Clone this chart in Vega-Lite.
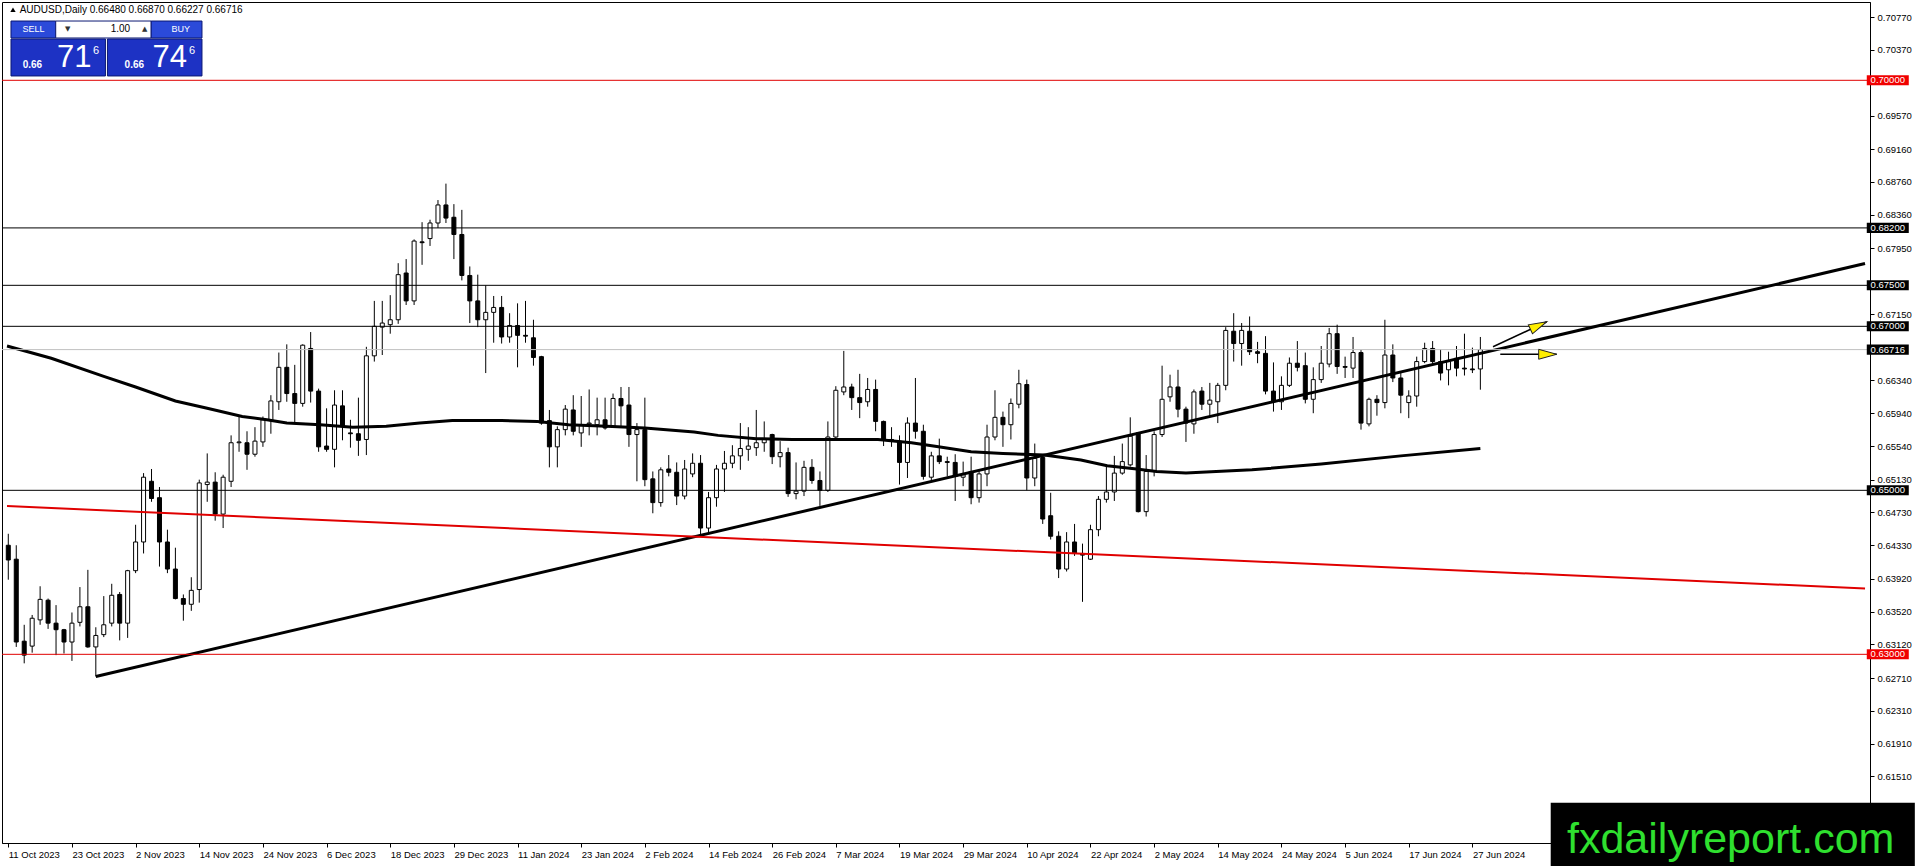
{
  "$schema": "https://vega.github.io/schema/vega-lite/v6.json",
  "description": "AUDUSD daily candles, Oct 2023 - Jun 2024, with moving average, trend lines and price levels (MT4 style).",
  "width": 1868,
  "height": 841,
  "autosize": {"type": "none"},
  "padding": {"left": 2, "top": 2, "right": 46, "bottom": 23},
  "background": "white",
  "config": {
    "view": {"stroke": "#000000", "strokeWidth": 1, "fill": "white"},
    "font": "Liberation Sans"
  },
  "resolve": {"scale": {"fill": "independent", "stroke": "independent", "color": "independent"}},
  "datasets": {
    "bars": [
      {"d": "2023-10-11", "n": 0, "o": 0.6433, "h": 0.6447, "l": 0.6391, "c": 0.6415},
      {"d": "2023-10-12", "n": 1, "o": 0.6416, "h": 0.6433, "l": 0.6309, "c": 0.6315},
      {"d": "2023-10-13", "n": 2, "o": 0.6316, "h": 0.6336, "l": 0.6289, "c": 0.6299},
      {"d": "2023-10-16", "n": 3, "o": 0.6310, "h": 0.6348, "l": 0.6302, "c": 0.6344},
      {"d": "2023-10-17", "n": 4, "o": 0.6342, "h": 0.6383, "l": 0.6336, "c": 0.6367},
      {"d": "2023-10-18", "n": 5, "o": 0.6366, "h": 0.6368, "l": 0.6331, "c": 0.6338},
      {"d": "2023-10-19", "n": 6, "o": 0.6338, "h": 0.6360, "l": 0.6299, "c": 0.6330},
      {"d": "2023-10-20", "n": 7, "o": 0.6330, "h": 0.6331, "l": 0.6301, "c": 0.6315},
      {"d": "2023-10-23", "n": 8, "o": 0.6315, "h": 0.6351, "l": 0.6292, "c": 0.6338},
      {"d": "2023-10-24", "n": 9, "o": 0.6339, "h": 0.6382, "l": 0.6334, "c": 0.6358},
      {"d": "2023-10-25", "n": 10, "o": 0.6358, "h": 0.6403, "l": 0.6308, "c": 0.6309},
      {"d": "2023-10-26", "n": 11, "o": 0.6309, "h": 0.6333, "l": 0.6273, "c": 0.6323},
      {"d": "2023-10-27", "n": 12, "o": 0.6324, "h": 0.6371, "l": 0.6321, "c": 0.6336},
      {"d": "2023-10-30", "n": 13, "o": 0.6338, "h": 0.6386, "l": 0.6334, "c": 0.6372},
      {"d": "2023-10-31", "n": 14, "o": 0.6373, "h": 0.6376, "l": 0.6317, "c": 0.6338},
      {"d": "2023-11-01", "n": 15, "o": 0.6338, "h": 0.6403, "l": 0.6320, "c": 0.6402},
      {"d": "2023-11-02", "n": 16, "o": 0.6402, "h": 0.6458, "l": 0.6399, "c": 0.6437},
      {"d": "2023-11-03", "n": 17, "o": 0.6437, "h": 0.6521, "l": 0.6423, "c": 0.6516},
      {"d": "2023-11-06", "n": 18, "o": 0.6511, "h": 0.6526, "l": 0.6486, "c": 0.6490},
      {"d": "2023-11-07", "n": 19, "o": 0.6491, "h": 0.6504, "l": 0.6407, "c": 0.6437},
      {"d": "2023-11-08", "n": 20, "o": 0.6437, "h": 0.6452, "l": 0.6399, "c": 0.6404},
      {"d": "2023-11-09", "n": 21, "o": 0.6404, "h": 0.6430, "l": 0.6367, "c": 0.6368},
      {"d": "2023-11-10", "n": 22, "o": 0.6368, "h": 0.6373, "l": 0.6341, "c": 0.6361},
      {"d": "2023-11-13", "n": 23, "o": 0.6361, "h": 0.6394, "l": 0.6353, "c": 0.6378},
      {"d": "2023-11-14", "n": 24, "o": 0.6379, "h": 0.6513, "l": 0.6363, "c": 0.6509},
      {"d": "2023-11-15", "n": 25, "o": 0.6507, "h": 0.6545, "l": 0.6486, "c": 0.6510},
      {"d": "2023-11-16", "n": 26, "o": 0.6510, "h": 0.6522, "l": 0.6463, "c": 0.6471},
      {"d": "2023-11-17", "n": 27, "o": 0.6471, "h": 0.6519, "l": 0.6454, "c": 0.6516},
      {"d": "2023-11-20", "n": 28, "o": 0.6511, "h": 0.6567, "l": 0.6504, "c": 0.6558},
      {"d": "2023-11-21", "n": 29, "o": 0.6558, "h": 0.6590, "l": 0.6547, "c": 0.6559},
      {"d": "2023-11-22", "n": 30, "o": 0.6558, "h": 0.6572, "l": 0.6525, "c": 0.6544},
      {"d": "2023-11-23", "n": 31, "o": 0.6544, "h": 0.6577, "l": 0.6541, "c": 0.6560},
      {"d": "2023-11-24", "n": 32, "o": 0.6559, "h": 0.6590, "l": 0.6553, "c": 0.6586},
      {"d": "2023-11-27", "n": 33, "o": 0.6585, "h": 0.6616, "l": 0.6569, "c": 0.6609},
      {"d": "2023-11-28", "n": 34, "o": 0.6608, "h": 0.6668, "l": 0.6598, "c": 0.6650},
      {"d": "2023-11-29", "n": 35, "o": 0.6650, "h": 0.6678, "l": 0.6608, "c": 0.6618},
      {"d": "2023-11-30", "n": 36, "o": 0.6618, "h": 0.6653, "l": 0.6582, "c": 0.6606},
      {"d": "2023-12-01", "n": 37, "o": 0.6606, "h": 0.6678, "l": 0.6602, "c": 0.6677},
      {"d": "2023-12-04", "n": 38, "o": 0.6673, "h": 0.6693, "l": 0.6607, "c": 0.6621},
      {"d": "2023-12-05", "n": 39, "o": 0.6621, "h": 0.6624, "l": 0.6547, "c": 0.6553},
      {"d": "2023-12-06", "n": 40, "o": 0.6554, "h": 0.6600, "l": 0.6547, "c": 0.6550},
      {"d": "2023-12-07", "n": 41, "o": 0.6550, "h": 0.6622, "l": 0.6528, "c": 0.6604},
      {"d": "2023-12-08", "n": 42, "o": 0.6603, "h": 0.6622, "l": 0.6561, "c": 0.6578},
      {"d": "2023-12-11", "n": 43, "o": 0.6570, "h": 0.6586, "l": 0.6552, "c": 0.6569},
      {"d": "2023-12-12", "n": 44, "o": 0.6569, "h": 0.6613, "l": 0.6542, "c": 0.6561},
      {"d": "2023-12-13", "n": 45, "o": 0.6562, "h": 0.6675, "l": 0.6543, "c": 0.6664},
      {"d": "2023-12-14", "n": 46, "o": 0.6664, "h": 0.6731, "l": 0.6657, "c": 0.6700},
      {"d": "2023-12-15", "n": 47, "o": 0.6699, "h": 0.6731, "l": 0.6665, "c": 0.6704},
      {"d": "2023-12-18", "n": 48, "o": 0.6702, "h": 0.6738, "l": 0.6691, "c": 0.6708},
      {"d": "2023-12-19", "n": 49, "o": 0.6708, "h": 0.6777, "l": 0.6703, "c": 0.6763},
      {"d": "2023-12-20", "n": 50, "o": 0.6765, "h": 0.6782, "l": 0.6726, "c": 0.6731},
      {"d": "2023-12-21", "n": 51, "o": 0.6731, "h": 0.6806, "l": 0.6726, "c": 0.6804},
      {"d": "2023-12-22", "n": 52, "o": 0.6803, "h": 0.6827, "l": 0.6775, "c": 0.6802},
      {"d": "2023-12-26", "n": 53, "o": 0.6807, "h": 0.6830, "l": 0.6798, "c": 0.6826},
      {"d": "2023-12-27", "n": 54, "o": 0.6826, "h": 0.6854, "l": 0.6820, "c": 0.6848},
      {"d": "2023-12-28", "n": 55, "o": 0.6848, "h": 0.6874, "l": 0.6826, "c": 0.6832},
      {"d": "2023-12-29", "n": 56, "o": 0.6833, "h": 0.6849, "l": 0.6782, "c": 0.6812},
      {"d": "2024-01-02", "n": 57, "o": 0.6812, "h": 0.6842, "l": 0.6756, "c": 0.6762},
      {"d": "2024-01-03", "n": 58, "o": 0.6762, "h": 0.6773, "l": 0.6704, "c": 0.6731},
      {"d": "2024-01-04", "n": 59, "o": 0.6731, "h": 0.6763, "l": 0.6699, "c": 0.6708},
      {"d": "2024-01-05", "n": 60, "o": 0.6708, "h": 0.6750, "l": 0.6643, "c": 0.6717},
      {"d": "2024-01-08", "n": 61, "o": 0.6717, "h": 0.6737, "l": 0.6680, "c": 0.6723},
      {"d": "2024-01-09", "n": 62, "o": 0.6723, "h": 0.6737, "l": 0.6679, "c": 0.6687},
      {"d": "2024-01-10", "n": 63, "o": 0.6687, "h": 0.6716, "l": 0.6680, "c": 0.6701},
      {"d": "2024-01-11", "n": 64, "o": 0.6701, "h": 0.6728, "l": 0.6650, "c": 0.6689},
      {"d": "2024-01-12", "n": 65, "o": 0.6689, "h": 0.6731, "l": 0.6680, "c": 0.6688},
      {"d": "2024-01-15", "n": 66, "o": 0.6686, "h": 0.6708, "l": 0.6652, "c": 0.6662},
      {"d": "2024-01-16", "n": 67, "o": 0.6663, "h": 0.6664, "l": 0.6580, "c": 0.6582},
      {"d": "2024-01-17", "n": 68, "o": 0.6585, "h": 0.6598, "l": 0.6528, "c": 0.6553},
      {"d": "2024-01-18", "n": 69, "o": 0.6553, "h": 0.6578, "l": 0.6528, "c": 0.6574},
      {"d": "2024-01-19", "n": 70, "o": 0.6574, "h": 0.6604, "l": 0.6567, "c": 0.6599},
      {"d": "2024-01-22", "n": 71, "o": 0.6598, "h": 0.6616, "l": 0.6567, "c": 0.6572},
      {"d": "2024-01-23", "n": 72, "o": 0.6570, "h": 0.6615, "l": 0.6553, "c": 0.6580},
      {"d": "2024-01-24", "n": 73, "o": 0.6581, "h": 0.6623, "l": 0.6567, "c": 0.6582},
      {"d": "2024-01-25", "n": 74, "o": 0.6580, "h": 0.6613, "l": 0.6567, "c": 0.6586},
      {"d": "2024-01-26", "n": 75, "o": 0.6586, "h": 0.6613, "l": 0.6574, "c": 0.6576},
      {"d": "2024-01-29", "n": 76, "o": 0.6578, "h": 0.6618, "l": 0.6576, "c": 0.6612},
      {"d": "2024-01-30", "n": 77, "o": 0.6612, "h": 0.6626, "l": 0.6578, "c": 0.6603},
      {"d": "2024-01-31", "n": 78, "o": 0.6604, "h": 0.6626, "l": 0.6553, "c": 0.6568},
      {"d": "2024-02-01", "n": 79, "o": 0.6568, "h": 0.6582, "l": 0.6511, "c": 0.6574},
      {"d": "2024-02-02", "n": 80, "o": 0.6574, "h": 0.6613, "l": 0.6505, "c": 0.6513},
      {"d": "2024-02-05", "n": 81, "o": 0.6514, "h": 0.6523, "l": 0.6472, "c": 0.6485},
      {"d": "2024-02-06", "n": 82, "o": 0.6485, "h": 0.6528, "l": 0.6480, "c": 0.6525},
      {"d": "2024-02-07", "n": 83, "o": 0.6526, "h": 0.6543, "l": 0.6517, "c": 0.6522},
      {"d": "2024-02-08", "n": 84, "o": 0.6522, "h": 0.6534, "l": 0.6482, "c": 0.6493},
      {"d": "2024-02-09", "n": 85, "o": 0.6493, "h": 0.6537, "l": 0.6489, "c": 0.6526},
      {"d": "2024-02-12", "n": 86, "o": 0.6520, "h": 0.6545, "l": 0.6516, "c": 0.6533},
      {"d": "2024-02-13", "n": 87, "o": 0.6533, "h": 0.6543, "l": 0.6446, "c": 0.6454},
      {"d": "2024-02-14", "n": 88, "o": 0.6454, "h": 0.6498, "l": 0.6448, "c": 0.6491},
      {"d": "2024-02-15", "n": 89, "o": 0.6491, "h": 0.6531, "l": 0.6480, "c": 0.6526},
      {"d": "2024-02-16", "n": 90, "o": 0.6526, "h": 0.6548, "l": 0.6498, "c": 0.6533},
      {"d": "2024-02-19", "n": 91, "o": 0.6533, "h": 0.6555, "l": 0.6527, "c": 0.6542},
      {"d": "2024-02-20", "n": 92, "o": 0.6542, "h": 0.6582, "l": 0.6525, "c": 0.6551},
      {"d": "2024-02-21", "n": 93, "o": 0.6550, "h": 0.6577, "l": 0.6536, "c": 0.6554},
      {"d": "2024-02-22", "n": 94, "o": 0.6552, "h": 0.6598, "l": 0.6542, "c": 0.6558},
      {"d": "2024-02-23", "n": 95, "o": 0.6558, "h": 0.6584, "l": 0.6547, "c": 0.6563},
      {"d": "2024-02-26", "n": 96, "o": 0.6568, "h": 0.6569, "l": 0.6532, "c": 0.6541},
      {"d": "2024-02-27", "n": 97, "o": 0.6541, "h": 0.6560, "l": 0.6528, "c": 0.6546},
      {"d": "2024-02-28", "n": 98, "o": 0.6546, "h": 0.6552, "l": 0.6492, "c": 0.6496},
      {"d": "2024-02-29", "n": 99, "o": 0.6496, "h": 0.6534, "l": 0.6489, "c": 0.6499},
      {"d": "2024-03-01", "n": 100, "o": 0.6499, "h": 0.6536, "l": 0.6493, "c": 0.6528},
      {"d": "2024-03-04", "n": 101, "o": 0.6528, "h": 0.6538, "l": 0.6508, "c": 0.6512},
      {"d": "2024-03-05", "n": 102, "o": 0.6512, "h": 0.6523, "l": 0.6481, "c": 0.6500},
      {"d": "2024-03-06", "n": 103, "o": 0.6500, "h": 0.6584, "l": 0.6498, "c": 0.6565},
      {"d": "2024-03-07", "n": 104, "o": 0.6565, "h": 0.6627, "l": 0.6563, "c": 0.6622},
      {"d": "2024-03-08", "n": 105, "o": 0.6620, "h": 0.6670, "l": 0.6616, "c": 0.6626},
      {"d": "2024-03-11", "n": 106, "o": 0.6626, "h": 0.6630, "l": 0.6598, "c": 0.6613},
      {"d": "2024-03-12", "n": 107, "o": 0.6613, "h": 0.6642, "l": 0.6588, "c": 0.6607},
      {"d": "2024-03-13", "n": 108, "o": 0.6608, "h": 0.6637, "l": 0.6602, "c": 0.6623},
      {"d": "2024-03-14", "n": 109, "o": 0.6623, "h": 0.6635, "l": 0.6572, "c": 0.6584},
      {"d": "2024-03-15", "n": 110, "o": 0.6584, "h": 0.6585, "l": 0.6554, "c": 0.6561},
      {"d": "2024-03-18", "n": 111, "o": 0.6562, "h": 0.6577, "l": 0.6553, "c": 0.6561},
      {"d": "2024-03-19", "n": 112, "o": 0.6560, "h": 0.6567, "l": 0.6507, "c": 0.6534},
      {"d": "2024-03-20", "n": 113, "o": 0.6534, "h": 0.6589, "l": 0.6515, "c": 0.6582},
      {"d": "2024-03-21", "n": 114, "o": 0.6582, "h": 0.6637, "l": 0.6563, "c": 0.6572},
      {"d": "2024-03-22", "n": 115, "o": 0.6572, "h": 0.6580, "l": 0.6513, "c": 0.6517},
      {"d": "2024-03-25", "n": 116, "o": 0.6516, "h": 0.6547, "l": 0.6512, "c": 0.6542},
      {"d": "2024-03-26", "n": 117, "o": 0.6542, "h": 0.6563, "l": 0.6532, "c": 0.6535},
      {"d": "2024-03-27", "n": 118, "o": 0.6535, "h": 0.6541, "l": 0.6517, "c": 0.6534},
      {"d": "2024-03-28", "n": 119, "o": 0.6534, "h": 0.6544, "l": 0.6487, "c": 0.6517},
      {"d": "2024-03-29", "n": 120, "o": 0.6516, "h": 0.6535, "l": 0.6505, "c": 0.6519},
      {"d": "2024-04-01", "n": 121, "o": 0.6523, "h": 0.6541, "l": 0.6483, "c": 0.6491},
      {"d": "2024-04-02", "n": 122, "o": 0.6491, "h": 0.6524, "l": 0.6485, "c": 0.6520},
      {"d": "2024-04-03", "n": 123, "o": 0.6520, "h": 0.6580, "l": 0.6505, "c": 0.6565},
      {"d": "2024-04-04", "n": 124, "o": 0.6565, "h": 0.6622, "l": 0.6561, "c": 0.6589},
      {"d": "2024-04-05", "n": 125, "o": 0.6589, "h": 0.6596, "l": 0.6553, "c": 0.6580},
      {"d": "2024-04-08", "n": 126, "o": 0.6580, "h": 0.6612, "l": 0.6562, "c": 0.6606},
      {"d": "2024-04-09", "n": 127, "o": 0.6605, "h": 0.6647, "l": 0.6600, "c": 0.6630},
      {"d": "2024-04-10", "n": 128, "o": 0.6629, "h": 0.6635, "l": 0.6500, "c": 0.6515},
      {"d": "2024-04-11", "n": 129, "o": 0.6515, "h": 0.6557, "l": 0.6505, "c": 0.6539},
      {"d": "2024-04-12", "n": 130, "o": 0.6540, "h": 0.6544, "l": 0.6459, "c": 0.6465},
      {"d": "2024-04-15", "n": 131, "o": 0.6469, "h": 0.6497, "l": 0.6440, "c": 0.6444},
      {"d": "2024-04-16", "n": 132, "o": 0.6444, "h": 0.6450, "l": 0.6393, "c": 0.6404},
      {"d": "2024-04-17", "n": 133, "o": 0.6404, "h": 0.6449, "l": 0.6401, "c": 0.6437},
      {"d": "2024-04-18", "n": 134, "o": 0.6437, "h": 0.6459, "l": 0.6420, "c": 0.6423},
      {"d": "2024-04-19", "n": 135, "o": 0.6423, "h": 0.6435, "l": 0.6364, "c": 0.6421},
      {"d": "2024-04-22", "n": 136, "o": 0.6416, "h": 0.6458, "l": 0.6415, "c": 0.6452},
      {"d": "2024-04-23", "n": 137, "o": 0.6452, "h": 0.6493, "l": 0.6444, "c": 0.6489},
      {"d": "2024-04-24", "n": 138, "o": 0.6489, "h": 0.6529, "l": 0.6485, "c": 0.6498},
      {"d": "2024-04-25", "n": 139, "o": 0.6498, "h": 0.6542, "l": 0.6487, "c": 0.6521},
      {"d": "2024-04-26", "n": 140, "o": 0.6521, "h": 0.6557, "l": 0.6519, "c": 0.6535},
      {"d": "2024-04-29", "n": 141, "o": 0.6531, "h": 0.6589, "l": 0.6529, "c": 0.6566},
      {"d": "2024-04-30", "n": 142, "o": 0.6570, "h": 0.6571, "l": 0.6473, "c": 0.6474},
      {"d": "2024-05-01", "n": 143, "o": 0.6474, "h": 0.6543, "l": 0.6468, "c": 0.6523},
      {"d": "2024-05-02", "n": 144, "o": 0.6523, "h": 0.6572, "l": 0.6517, "c": 0.6568},
      {"d": "2024-05-03", "n": 145, "o": 0.6568, "h": 0.6652, "l": 0.6565, "c": 0.6611},
      {"d": "2024-05-06", "n": 146, "o": 0.6614, "h": 0.6641, "l": 0.6608, "c": 0.6626},
      {"d": "2024-05-07", "n": 147, "o": 0.6626, "h": 0.6647, "l": 0.6589, "c": 0.6599},
      {"d": "2024-05-08", "n": 148, "o": 0.6599, "h": 0.6602, "l": 0.6559, "c": 0.6582},
      {"d": "2024-05-09", "n": 149, "o": 0.6581, "h": 0.6623, "l": 0.6569, "c": 0.6620},
      {"d": "2024-05-10", "n": 150, "o": 0.6621, "h": 0.6626, "l": 0.6598, "c": 0.6605},
      {"d": "2024-05-13", "n": 151, "o": 0.6605, "h": 0.6631, "l": 0.6591, "c": 0.6610},
      {"d": "2024-05-14", "n": 152, "o": 0.6608, "h": 0.6631, "l": 0.6582, "c": 0.6628},
      {"d": "2024-05-15", "n": 153, "o": 0.6628, "h": 0.6699, "l": 0.6622, "c": 0.6695},
      {"d": "2024-05-16", "n": 154, "o": 0.6694, "h": 0.6716, "l": 0.6657, "c": 0.6679},
      {"d": "2024-05-17", "n": 155, "o": 0.6679, "h": 0.6704, "l": 0.6652, "c": 0.6695},
      {"d": "2024-05-20", "n": 156, "o": 0.6694, "h": 0.6712, "l": 0.6665, "c": 0.6669},
      {"d": "2024-05-21", "n": 157, "o": 0.6669, "h": 0.6681, "l": 0.6655, "c": 0.6667},
      {"d": "2024-05-22", "n": 158, "o": 0.6667, "h": 0.6688, "l": 0.6617, "c": 0.6621},
      {"d": "2024-05-23", "n": 159, "o": 0.6621, "h": 0.6656, "l": 0.6596, "c": 0.6608},
      {"d": "2024-05-24", "n": 160, "o": 0.6608, "h": 0.6639, "l": 0.6598, "c": 0.6628},
      {"d": "2024-05-27", "n": 161, "o": 0.6628, "h": 0.6662, "l": 0.6626, "c": 0.6655},
      {"d": "2024-05-28", "n": 162, "o": 0.6655, "h": 0.6682, "l": 0.6645, "c": 0.6650},
      {"d": "2024-05-29", "n": 163, "o": 0.6652, "h": 0.6668, "l": 0.6606, "c": 0.6611},
      {"d": "2024-05-30", "n": 164, "o": 0.6611, "h": 0.6650, "l": 0.6594, "c": 0.6635},
      {"d": "2024-05-31", "n": 165, "o": 0.6635, "h": 0.6676, "l": 0.6631, "c": 0.6655},
      {"d": "2024-06-03", "n": 166, "o": 0.6654, "h": 0.6698, "l": 0.6650, "c": 0.6691},
      {"d": "2024-06-04", "n": 167, "o": 0.6691, "h": 0.6702, "l": 0.6642, "c": 0.6651},
      {"d": "2024-06-05", "n": 168, "o": 0.6651, "h": 0.6663, "l": 0.6637, "c": 0.6650},
      {"d": "2024-06-06", "n": 169, "o": 0.6649, "h": 0.6687, "l": 0.6637, "c": 0.6668},
      {"d": "2024-06-07", "n": 170, "o": 0.6668, "h": 0.6671, "l": 0.6574, "c": 0.6582},
      {"d": "2024-06-10", "n": 171, "o": 0.6581, "h": 0.6613, "l": 0.6578, "c": 0.6611},
      {"d": "2024-06-11", "n": 172, "o": 0.6611, "h": 0.6616, "l": 0.6591, "c": 0.6607},
      {"d": "2024-06-12", "n": 173, "o": 0.6607, "h": 0.6708, "l": 0.6600, "c": 0.6665},
      {"d": "2024-06-13", "n": 174, "o": 0.6665, "h": 0.6678, "l": 0.6632, "c": 0.6637},
      {"d": "2024-06-14", "n": 175, "o": 0.6637, "h": 0.6643, "l": 0.6594, "c": 0.6616},
      {"d": "2024-06-17", "n": 176, "o": 0.6607, "h": 0.6622, "l": 0.6588, "c": 0.6615},
      {"d": "2024-06-18", "n": 177, "o": 0.6615, "h": 0.6663, "l": 0.6602, "c": 0.6657},
      {"d": "2024-06-19", "n": 178, "o": 0.6657, "h": 0.6680, "l": 0.6655, "c": 0.6673},
      {"d": "2024-06-20", "n": 179, "o": 0.6673, "h": 0.6682, "l": 0.6654, "c": 0.6657},
      {"d": "2024-06-21", "n": 180, "o": 0.6657, "h": 0.6672, "l": 0.6634, "c": 0.6643},
      {"d": "2024-06-24", "n": 181, "o": 0.6647, "h": 0.6669, "l": 0.6628, "c": 0.6657},
      {"d": "2024-06-25", "n": 182, "o": 0.6661, "h": 0.6676, "l": 0.6639, "c": 0.6649},
      {"d": "2024-06-26", "n": 183, "o": 0.6649, "h": 0.6691, "l": 0.6640, "c": 0.6648},
      {"d": "2024-06-27", "n": 184, "o": 0.6648, "h": 0.6674, "l": 0.6643, "c": 0.6647},
      {"d": "2024-06-28", "n": 185, "o": 0.6648, "h": 0.6687, "l": 0.66227, "c": 0.66716}
    ],
    "ma": [
      {"n": -0.16, "p": 0.6676}, {"n": 5.4, "p": 0.6661}, {"n": 12, "p": 0.6639},
      {"n": 16, "p": 0.6626}, {"n": 21, "p": 0.6609}, {"n": 25, "p": 0.6600},
      {"n": 29.4, "p": 0.6590}, {"n": 32.5, "p": 0.6586}, {"n": 35, "p": 0.6582},
      {"n": 39.2, "p": 0.6580}, {"n": 43.3, "p": 0.6577}, {"n": 47.5, "p": 0.6578},
      {"n": 51.7, "p": 0.6582}, {"n": 55.8, "p": 0.6585}, {"n": 62, "p": 0.6585},
      {"n": 66.5, "p": 0.6584}, {"n": 70.4, "p": 0.6580}, {"n": 75.2, "p": 0.6578},
      {"n": 80, "p": 0.6576}, {"n": 86.2, "p": 0.6571}, {"n": 89.2, "p": 0.6567},
      {"n": 94, "p": 0.6563}, {"n": 98.5, "p": 0.6562}, {"n": 109.3, "p": 0.6562},
      {"n": 113.5, "p": 0.6558}, {"n": 116.9, "p": 0.6553}, {"n": 121, "p": 0.6547},
      {"n": 125, "p": 0.6545}, {"n": 130.2, "p": 0.6543}, {"n": 134.8, "p": 0.6537},
      {"n": 138.1, "p": 0.6530}, {"n": 141.8, "p": 0.6526}, {"n": 144.3, "p": 0.6523},
      {"n": 148, "p": 0.6521}, {"n": 151.8, "p": 0.6523}, {"n": 156.3, "p": 0.6525},
      {"n": 165, "p": 0.6532}, {"n": 175, "p": 0.6542}, {"n": 185, "p": 0.6551}
    ],
    "rays": [
      {"line": "trend", "n": 11, "p": 0.6273},
      {"line": "trend", "n": 233.34, "p": 0.67765},
      {"line": "red", "n": -0.16, "p": 0.64808},
      {"line": "red", "n": 233.34, "p": 0.63803}
    ],
    "levels": [
      {"p": 0.70000, "kind": "red"},
      {"p": 0.68200, "kind": "black"},
      {"p": 0.67500, "kind": "black"},
      {"p": 0.67000, "kind": "black"},
      {"p": 0.66716, "kind": "price"},
      {"p": 0.65000, "kind": "black"},
      {"p": 0.63000, "kind": "red"}
    ],
    "arrows": [
      {"arrow": "up", "n": 186.59, "p": 0.66751, "n2": 193.34, "p2": 0.67056},
      {"arrow": "flat", "n": 187.5, "p": 0.66659, "n2": 194.59, "p2": 0.66659}
    ],
    "panel": [
      {"part": "button", "n": 0.34, "n2": 5.96, "p": 0.70723, "p2": 0.70516},
      {"part": "lot", "n": 5.96, "n2": 17.96, "p": 0.70723, "p2": 0.70516},
      {"part": "button", "n": 17.96, "n2": 24.34, "p": 0.70723, "p2": 0.70516},
      {"part": "quote", "n": 0.34, "n2": 12.21, "p": 0.70504, "p2": 0.70053},
      {"part": "quote", "n": 12.46, "n2": 24.34, "p": 0.70504, "p2": 0.70053}
    ],
    "ptext": [
      {"t": "SELL", "role": "btn", "n": 3.18, "p": 0.7062},
      {"t": "BUY", "role": "btn", "n": 21.66, "p": 0.7062},
      {"t": "1.00", "role": "lot", "n": 14.09, "p": 0.7062},
      {"t": "▼", "role": "arrow", "n": 7.46, "p": 0.7062},
      {"t": "▲", "role": "arrow", "n": 17.15, "p": 0.7062},
      {"t": "0.66", "role": "small", "n": 3.03, "p": 0.70182},
      {"t": "0.66", "role": "small", "n": 15.84, "p": 0.70182},
      {"t": "71", "role": "big", "n": 8.28, "p": 0.70272},
      {"t": "74", "role": "big", "n": 20.28, "p": 0.70272},
      {"t": "6", "role": "sup", "n": 11.03, "p": 0.70361},
      {"t": "6", "role": "sup", "n": 23.09, "p": 0.70361}
    ]
  },
  "layer": [
    {
      "data": {"name": "bars"},
      "mark": {"type": "rule", "color": "#000000", "strokeWidth": 1},
      "encoding": {
        "x": {
          "field": "n", "type": "quantitative", "title": null,
          "scale": {"domain": [-0.1625, 233.3375], "nice": false, "zero": false},
          "axis": {
            "title": null,
            "values": [0, 8, 16, 24, 32, 40, 48, 56, 64, 72, 80, 88, 96, 104, 112, 120, 128, 136, 144, 152, 160, 168, 176, 184],
            "tickCount": 60,
            "labelExpr": "['11 Oct 2023','23 Oct 2023','2 Nov 2023','14 Nov 2023','24 Nov 2023','6 Dec 2023','18 Dec 2023','29 Dec 2023','11 Jan 2024','23 Jan 2024','2 Feb 2024','14 Feb 2024','26 Feb 2024','7 Mar 2024','19 Mar 2024','29 Mar 2024','10 Apr 2024','22 Apr 2024','2 May 2024','14 May 2024','24 May 2024','5 Jun 2024','17 Jun 2024','27 Jun 2024'][round(datum.value / 8)]",
            "labelAlign": "left", "labelBaseline": "top", "labelPadding": 2,
            "labelFont": "Liberation Sans", "labelFontSize": 9.5, "labelColor": "#000000",
            "tickSize": 4, "tickColor": "#000000", "domainColor": "#000000",
            "grid": false, "labelFlush": false, "labelOverlap": false, "labelBound": false
          }
        },
        "y": {
          "field": "l", "type": "quantitative", "title": null,
          "scale": {"domain": [0.60699, 0.70955], "nice": false, "zero": false},
          "axis": {
            "title": null, "orient": "right",
            "values": [0.7077, 0.7037, 0.6957, 0.6916, 0.6876, 0.6836, 0.6795, 0.6715, 0.6634, 0.6594, 0.6554, 0.6513, 0.6473, 0.6433, 0.6392, 0.6352, 0.6312, 0.6271, 0.6231, 0.6191, 0.6151, 0.611],
            "tickCount": 60,
            "format": ".5f",
            "labelAlign": "left", "labelBaseline": "middle", "labelPadding": 3,
            "labelFont": "Liberation Sans", "labelFontSize": 9.5, "labelColor": "#000000",
            "tickSize": 4, "tickColor": "#000000", "domainColor": "#000000",
            "grid": false, "labelFlush": false, "labelOverlap": false, "labelBound": false
          }
        },
        "y2": {"field": "h"}
      }
    },
    {
      "data": {"name": "bars"},
      "mark": {"type": "bar", "width": 4, "stroke": "#000000", "strokeWidth": 1},
      "encoding": {
        "x": {"field": "n", "type": "quantitative", "title": null},
        "y": {"field": "o", "type": "quantitative", "title": null},
        "y2": {"field": "c"},
        "fill": {"condition": {"test": "datum.c >= datum.o", "value": "#ffffff"}, "value": "#000000"}
      }
    },
    {
      "data": {"name": "ma"},
      "mark": {"type": "line", "color": "#000000", "strokeWidth": 3, "clip": true},
      "encoding": {
        "x": {"field": "n", "type": "quantitative", "title": null},
        "y": {"field": "p", "type": "quantitative", "title": null}
      }
    },
    {
      "data": {"name": "rays"},
      "transform": [{"filter": "datum.line === 'trend'"}],
      "mark": {"type": "line", "color": "#000000", "strokeWidth": 3, "clip": true},
      "encoding": {
        "x": {"field": "n", "type": "quantitative", "title": null},
        "y": {"field": "p", "type": "quantitative", "title": null}
      }
    },
    {
      "data": {"name": "rays"},
      "transform": [{"filter": "datum.line === 'red'"}],
      "mark": {"type": "line", "color": "#e00000", "strokeWidth": 2, "clip": true},
      "encoding": {
        "x": {"field": "n", "type": "quantitative", "title": null},
        "y": {"field": "p", "type": "quantitative", "title": null}
      }
    },
    {
      "data": {"name": "levels"},
      "mark": {"type": "rule", "strokeWidth": 1},
      "encoding": {
        "y": {"field": "p", "type": "quantitative", "title": null},
        "stroke": {
          "field": "kind", "type": "nominal",
          "scale": {"domain": ["red", "black", "price"], "range": ["#e00000", "#000000", "#c0c0c0"]},
          "legend": null
        }
      }
    },
    {
      "data": {"name": "arrows"},
      "mark": {"type": "rule", "color": "#000000", "strokeWidth": 1.5},
      "encoding": {
        "x": {"field": "n", "type": "quantitative", "title": null},
        "y": {"field": "p", "type": "quantitative", "title": null},
        "x2": {"field": "n2"},
        "y2": {"field": "p2"}
      }
    },
    {
      "data": {"name": "arrows"},
      "transform": [{"filter": "datum.arrow === 'up'"}],
      "mark": {"type": "point", "shape": "M0,0L-2,-0.55L-2,0.55Z", "size": 324, "filled": true, "fill": "#ffee00", "stroke": "#222222", "strokeWidth": 1, "opacity": 1, "angle": 335.2},
      "encoding": {
        "x": {"field": "n2", "type": "quantitative", "title": null},
        "y": {"field": "p2", "type": "quantitative", "title": null}
      }
    },
    {
      "data": {"name": "arrows"},
      "transform": [{"filter": "datum.arrow === 'flat'"}],
      "mark": {"type": "point", "shape": "M0,0L-2,-0.55L-2,0.55Z", "size": 324, "filled": true, "fill": "#ffee00", "stroke": "#222222", "strokeWidth": 1, "opacity": 1, "angle": 0},
      "encoding": {
        "x": {"field": "n2", "type": "quantitative", "title": null},
        "y": {"field": "p2", "type": "quantitative", "title": null}
      }
    },
    {
      "data": {"name": "levels"},
      "mark": {"type": "point", "shape": "M-1,-0.24H1V0.24H-1Z", "size": 1764, "filled": true, "opacity": 1, "strokeWidth": 0},
      "encoding": {
        "x": {"datum": 236.2, "type": "quantitative"},
        "y": {"field": "p", "type": "quantitative", "title": null},
        "fill": {
          "field": "kind", "type": "nominal",
          "scale": {"domain": ["red", "black", "price"], "range": ["#f00000", "#000000", "#000000"]},
          "legend": null
        }
      }
    },
    {
      "data": {"name": "levels"},
      "mark": {"type": "text", "color": "#ffffff", "font": "Liberation Sans", "fontSize": 9.5, "align": "center", "baseline": "middle"},
      "encoding": {
        "x": {"datum": 236.2, "type": "quantitative"},
        "y": {"field": "p", "type": "quantitative", "title": null},
        "text": {"field": "p", "type": "quantitative", "format": ".5f"}
      }
    },
    {
      "data": {"name": "panel"},
      "mark": {"type": "rect", "stroke": "#0b1873", "strokeWidth": 1},
      "encoding": {
        "x": {"field": "n", "type": "quantitative", "title": null},
        "x2": {"field": "n2"},
        "y": {"field": "p", "type": "quantitative", "title": null},
        "y2": {"field": "p2"},
        "fill": {
          "field": "part", "type": "nominal",
          "scale": {"domain": ["button", "lot", "quote"], "range": ["#2b4ad9", "#ffffff", "#1d32c4"]},
          "legend": null
        }
      }
    },
    {
      "data": {"name": "ptext"},
      "transform": [{"filter": "datum.role === 'btn'"}],
      "mark": {"type": "text", "color": "#ffffff", "font": "Liberation Sans", "fontSize": 9, "align": "center", "baseline": "middle"},
      "encoding": {
        "x": {"field": "n", "type": "quantitative", "title": null},
        "y": {"field": "p", "type": "quantitative", "title": null},
        "text": {"field": "t"}
      }
    },
    {
      "data": {"name": "ptext"},
      "transform": [{"filter": "datum.role === 'lot'"}],
      "mark": {"type": "text", "color": "#000000", "font": "Liberation Sans", "fontSize": 10, "align": "center", "baseline": "middle"},
      "encoding": {
        "x": {"field": "n", "type": "quantitative", "title": null},
        "y": {"field": "p", "type": "quantitative", "title": null},
        "text": {"field": "t"}
      }
    },
    {
      "data": {"name": "ptext"},
      "transform": [{"filter": "datum.role === 'arrow'"}],
      "mark": {"type": "text", "color": "#333333", "font": "DejaVu Sans", "fontSize": 7, "align": "center", "baseline": "middle"},
      "encoding": {
        "x": {"field": "n", "type": "quantitative", "title": null},
        "y": {"field": "p", "type": "quantitative", "title": null},
        "text": {"field": "t"}
      }
    },
    {
      "data": {"name": "ptext"},
      "transform": [{"filter": "datum.role === 'small'"}],
      "mark": {"type": "text", "color": "#ffffff", "font": "Liberation Sans", "fontSize": 10, "fontWeight": "bold", "align": "center", "baseline": "middle"},
      "encoding": {
        "x": {"field": "n", "type": "quantitative", "title": null},
        "y": {"field": "p", "type": "quantitative", "title": null},
        "text": {"field": "t"}
      }
    },
    {
      "data": {"name": "ptext"},
      "transform": [{"filter": "datum.role === 'big'"}],
      "mark": {"type": "text", "color": "#ffffff", "font": "Liberation Sans", "fontSize": 31, "align": "center", "baseline": "middle"},
      "encoding": {
        "x": {"field": "n", "type": "quantitative", "title": null},
        "y": {"field": "p", "type": "quantitative", "title": null},
        "text": {"field": "t"}
      }
    },
    {
      "data": {"name": "ptext"},
      "transform": [{"filter": "datum.role === 'sup'"}],
      "mark": {"type": "text", "color": "#ffffff", "font": "Liberation Sans", "fontSize": 11, "align": "center", "baseline": "middle"},
      "encoding": {
        "x": {"field": "n", "type": "quantitative", "title": null},
        "y": {"field": "p", "type": "quantitative", "title": null},
        "text": {"field": "t"}
      }
    },
    {
      "data": {"values": [{"t": "AUDUSD,Daily  0.66480 0.66870 0.66227 0.66716"}]},
      "mark": {"type": "text", "color": "#000000", "font": "Liberation Sans", "fontSize": 10, "align": "left", "baseline": "middle"},
      "encoding": {
        "x": {"datum": 1.43, "type": "quantitative"},
        "y": {"datum": 0.7086, "type": "quantitative"},
        "text": {"field": "t"}
      }
    },
    {
      "data": {"values": [{"t": "up"}]},
      "mark": {"type": "point", "shape": "triangle-up", "size": 28, "filled": true, "color": "#000000", "opacity": 1},
      "encoding": {
        "x": {"datum": 0.59, "type": "quantitative"},
        "y": {"datum": 0.7086, "type": "quantitative"}
      }
    },
    {
      "data": {"values": [{"t": "fxdailyreport.com"}]},
      "mark": {"type": "rect", "fill": "#000000"},
      "encoding": {
        "x": {"datum": 193.84, "type": "quantitative"},
        "x2": {"datum": 239.6},
        "y": {"datum": 0.61189, "type": "quantitative"},
        "y2": {"datum": 0.604}
      }
    },
    {
      "data": {"values": [{"t": "fxdailyreport.com"}]},
      "mark": {"type": "text", "color": "#2fe02f", "font": "Liberation Sans", "fontSize": 43, "align": "center", "baseline": "middle"},
      "encoding": {
        "x": {"datum": 216.46, "type": "quantitative"},
        "y": {"datum": 0.60741, "type": "quantitative"},
        "text": {"field": "t"}
      }
    }
  ]
}
